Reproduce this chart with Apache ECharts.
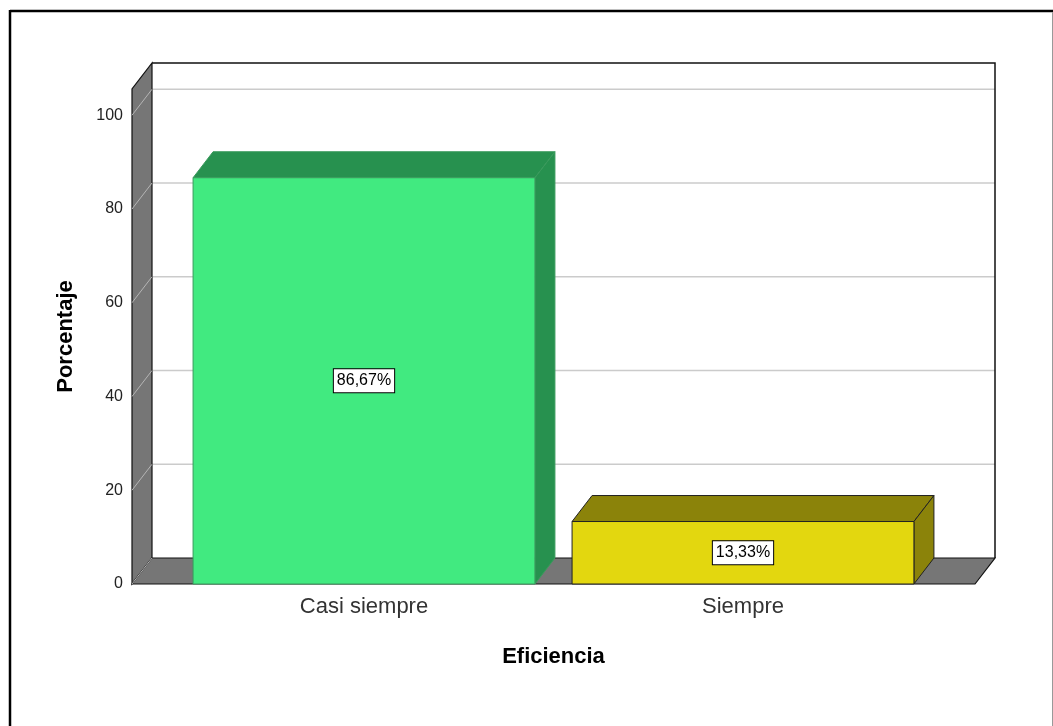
<!DOCTYPE html>
<html>
<head>
<meta charset="utf-8">
<script src="https://cdn.jsdelivr.net/npm/echarts@6/dist/echarts.min.js"></script>
<style>
html,body{margin:0;padding:0;background:#fff;}
#chart{width:1053px;height:726px;}
</style>
</head>
<body>
<div id="chart"></div>
<script>
// ---- data ----
const categories = ['Casi siempre', 'Siempre'];
const percentages = [86.67, 13.33];
const yTicks = [0, 20, 40, 60, 80, 100];
const xAxisTitle = 'Eficiencia';
const yAxisTitle = 'Porcentaje';

// ---- style ----
const FRONT = ['#41EA80', '#E3D70F'];
const SHADE = ['#27914F', '#8B830A'];
const EDGE = ['#3a9a5c', '#222222'];
const DX = 20, DY = -26, EXT = 42.5;
const FONT = '"Liberation Sans", Arial, sans-serif';

const chart = echarts.init(document.getElementById('chart'));

function renderFrame(params, api) {
  const cs = params.coordSys;
  const xl = cs.x - EXT, xr = cs.x + cs.width + EXT;
  const y0 = api.coord([0, 0])[1];
  const yT = cs.y;
  const kids = [];
  kids.push({type: 'polygon', shape: {points: [[xl+DX, yT+DY], [xr+DX, yT+DY], [xr+DX, y0+DY], [xl+DX, y0+DY]]},
    style: {fill: '#fff', stroke: null}});
  yTicks.forEach(t => {
    if (t === 0) return;
    const y = api.coord([0, t])[1];
    kids.push({type: 'line', shape: {x1: xl+DX, y1: y+DY, x2: xr+DX, y2: y+DY}, style: {stroke: '#cbcbcb', lineWidth: 1.5}});
  });
  kids.push({type: 'polygon', shape: {points: [[xl, y0], [xl, yT], [xl+DX, yT+DY], [xl+DX, y0+DY]]},
    style: {fill: '#767676', stroke: '#111', lineWidth: 1.2}});
  kids.push({type: 'polygon', shape: {points: [[xl, y0], [xr, y0], [xr+DX, y0+DY], [xl+DX, y0+DY]]},
    style: {fill: '#767676', stroke: '#111', lineWidth: 1.2}});
  yTicks.forEach(t => {
    const y = api.coord([0, t])[1];
    kids.push({type: 'line', shape: {x1: xl, y1: y, x2: xl+DX, y2: y+DY}, style: {stroke: '#b5b5b5', lineWidth: 1}});
  });
  kids.push({type: 'polyline', shape: {points: [[xl+DX, yT+DY], [xr+DX, yT+DY], [xr+DX, y0+DY]]},
    style: {fill: null, stroke: '#111', lineWidth: 1.5}});
  return {type: 'group', children: kids};
}

function renderBar(params, api) {
  const i = api.value(0), v = api.value(1);
  const top = api.coord([i, v]);
  const base = api.coord([i, 0]);
  const hw = api.size([1, 0])[0] * 0.451;
  const xL = top[0] - hw, xR = top[0] + hw, yt = top[1], yb = base[1];
  const lbl = v.toFixed(2).replace('.', ',') + '%';
  return {type: 'group', children: [
    {type: 'polygon', shape: {points: [[xL, yt], [xR, yt], [xR+DX, yt+DY], [xL+DX, yt+DY]]},
      style: {fill: SHADE[i], stroke: EDGE[i], lineWidth: 1}},
    {type: 'polygon', shape: {points: [[xR, yt], [xR+DX, yt+DY], [xR+DX, yb+DY], [xR, yb]]},
      style: {fill: SHADE[i], stroke: EDGE[i], lineWidth: 1}},
    {type: 'rect', shape: {x: xL, y: yt, width: xR - xL, height: yb - yt},
      style: {fill: FRONT[i], stroke: EDGE[i], lineWidth: 1}},
    {type: 'text', x: top[0], y: (yt + yb) / 2,
      style: {text: lbl, align: 'center', verticalAlign: 'middle', fill: '#000',
        font: '16px ' + FONT, backgroundColor: '#fff', borderColor: '#000', borderWidth: 1,
        padding: [4, 3, 3, 3]}}
  ]};
}

chart.setOption({
  animation: false,
  backgroundColor: '#fff',
  graphic: [
    {type: 'line', shape: {x1: 10, y1: 11, x2: 1053, y2: 11}, style: {stroke: '#000', lineWidth: 2.5}},
    {type: 'line', shape: {x1: 10, y1: 10, x2: 10, y2: 726}, style: {stroke: '#000', lineWidth: 2.5}},
    {type: 'line', shape: {x1: 1052.5, y1: 12, x2: 1052.5, y2: 726}, style: {stroke: '#999', lineWidth: 1}}
  ],
  grid: {left: 174.5, top: 89, width: 758, height: 495},
  xAxis: {
    type: 'category', data: categories,
    axisLine: {show: false}, axisTick: {show: false}, splitLine: {show: false},
    axisLabel: {fontSize: 22, color: '#333', fontFamily: FONT, margin: 12},
    name: xAxisTitle, nameLocation: 'middle', nameGap: 62,
    nameTextStyle: {fontSize: 22, fontWeight: 'bold', color: '#000', fontFamily: FONT}
  },
  yAxis: {
    type: 'value', min: 0, max: 105.6, interval: 20, offset: EXT,
    axisLine: {show: false}, axisTick: {show: false}, splitLine: {show: false},
    axisLabel: {fontSize: 16, color: '#222', fontFamily: FONT, margin: 9, padding: [5, 0, 0, 0],
      formatter: v => (yTicks.indexOf(Math.round(v * 100) / 100) >= 0 ? String(v) : '')},
    name: yAxisTitle, nameLocation: 'middle', nameGap: 55, nameRotate: 90,
    nameTextStyle: {fontSize: 22, fontWeight: 'bold', color: '#000', fontFamily: FONT}
  },
  series: [
    {type: 'custom', renderItem: renderFrame, data: [[0, 0]], silent: true, z: 1},
    {type: 'custom', renderItem: renderBar, z: 2,
      data: categories.map((c, i) => [i, percentages[i]])}
  ]
});
</script>
</body>
</html>
